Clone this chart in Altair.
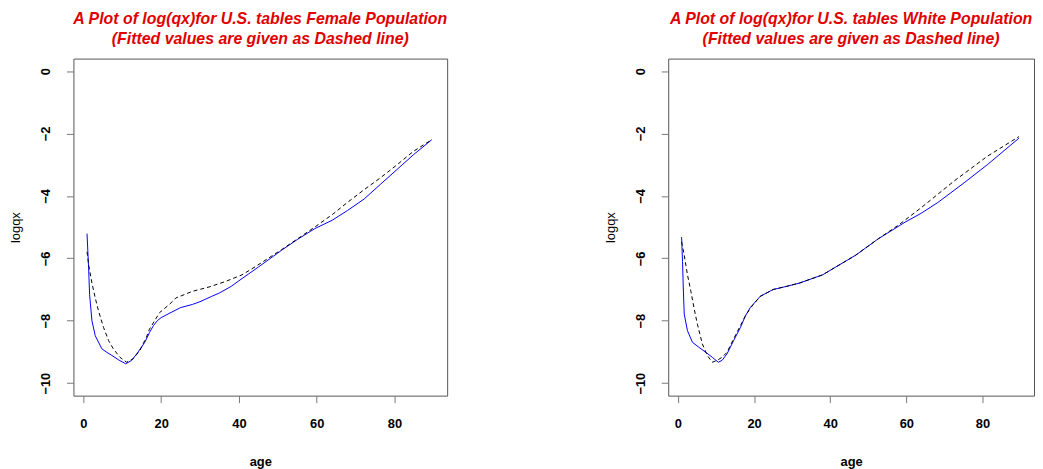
import altair as alt
import pandas as pd

# Female population: observed log(qx) (solid blue)
fem_obs_age = [0.94, 1.35, 1.6, 2.2, 3.05, 4.75, 6, 7.3, 9, 10.9, 12.4, 14.1, 15.8, 17, 18, 19, 20, 22,
               25, 28, 30, 33, 35, 38, 40, 42.5, 45, 51, 55, 59.5, 64, 67.9, 72.2, 76.4, 80.7, 84.9, 89.6]
fem_obs_val = [-5.21, -6.32, -7.16, -8.0, -8.48, -8.9, -9.01, -9.11, -9.25, -9.38, -9.27, -9.0, -8.69, -8.38,
               -8.16, -8.0, -7.90, -7.77, -7.58, -7.48, -7.39, -7.22, -7.11, -6.90, -6.72, -6.50, -6.28,
               -5.74, -5.4, -5.05, -4.78, -4.47, -4.10, -3.63, -3.15, -2.68, -2.20]
# Female population: fitted (dashed black)
fem_fit_age = [0.94, 1.35, 2.2, 3.05, 3.9, 5.2, 6.5, 7.7, 9.4, 11.1, 12.8, 14.5, 16.2, 17, 19.6, 22.1,
               23.8, 28, 32.3, 36.6, 40.8, 44.2, 51, 59.5, 64, 67.9, 72, 76.4, 80.7, 84.9, 89.6]
fem_fit_val = [-5.79, -6.21, -6.79, -7.27, -7.69, -8.22, -8.64, -8.9, -9.17, -9.33, -9.22, -8.96, -8.53,
               -8.27, -7.74, -7.48, -7.27, -7.06, -6.92, -6.74, -6.53, -6.27, -5.72, -5.0, -4.6, -4.21,
               -3.82, -3.42, -3.0, -2.57, -2.2]

# White population: observed log(qx) (solid blue)
wht_obs_age = [0.96, 1.2, 1.4, 1.65, 2.5, 3.8, 5.5, 7.3, 9, 10.6, 11.6, 12.9, 14.6, 16.4, 17.7, 19, 21.6,
               25, 28.5, 32, 38, 46.7, 52.7, 59.7, 64, 68.3, 75.2, 81.3, 89.6]
wht_obs_val = [-5.32, -6.1, -6.95, -7.79, -8.32, -8.69, -8.85, -9.01, -9.17, -9.33, -9.27, -9.06, -8.64,
               -8.22, -7.85, -7.58, -7.22, -7.0, -6.9, -6.79, -6.53, -5.9, -5.37, -4.84, -4.55, -4.21,
               -3.58, -3.0, -2.15]
# White population: fitted (dashed black)
wht_fit_age = [0.96, 1.65, 2.5, 3.4, 4.2, 5.1, 6.4, 7.7, 9, 10.3, 11.6, 12.9, 14.6, 16.4, 17.7, 19, 21.6,
               25, 28.5, 32, 38, 46.7, 52.7, 58, 64, 72.6, 81.3, 89.6]
wht_fit_val = [-5.47, -5.9, -6.53, -7.06, -7.58, -8.11, -8.74, -9.11, -9.33, -9.27, -9.17, -9.01, -8.59,
               -8.16, -7.85, -7.6, -7.22, -7.0, -6.9, -6.79, -6.53, -5.9, -5.37, -4.93, -4.37, -3.52,
               -2.73, -2.1]

x_ticks = [0, 20, 40, 60, 80]
y_ticks = [0, -2, -4, -6, -8, -10]

titles = {
    "Female": ["A Plot of log(qx)for U.S. tables Female Population",
               "(Fitted values are given as Dashed line)"],
    "White": ["A Plot of log(qx)for U.S. tables White Population",
              "(Fitted values are given as Dashed line)"],
}

FONT = "Liberation Sans"


def panel(obs_age, obs_val, fit_age, fit_val, title, width):
    obs = pd.DataFrame({"age": obs_age, "logqx": obs_val})
    fit = pd.DataFrame({"age": fit_age, "logqx": fit_val})
    x = alt.X("age:Q", title="age",
              scale=alt.Scale(domain=[-2.56, 93.56], nice=False, zero=False),
              axis=alt.Axis(values=x_ticks, grid=False, domain=False, tickSize=7,
                            tickColor="#777", labelPadding=15, labelFontWeight="bold",
                            labelFontSize=13, labelFont=FONT, labelColor="#000",
                            titleFont=FONT, titleFontSize=13, titleFontWeight="bold",
                            titlePadding=25, titleColor="#000"))
    y = alt.Y("logqx:Q", title="logqx",
              scale=alt.Scale(domain=[-10.4, 0.4], nice=False, zero=False),
              axis=alt.Axis(values=y_ticks, grid=False, domain=False, tickSize=7,
                            tickColor="#777", labelAngle=-90, labelPadding=14,
                            labelFontWeight="bold", labelFontSize=13, labelFont=FONT,
                            labelColor="#000", titleFont=FONT, titleFontSize=13,
                            titleFontWeight="normal", titlePadding=17, titleColor="#000"))
    l1 = alt.Chart(obs).mark_line(color="#0000ff", strokeWidth=1).encode(x=x, y=y, order="age:Q")
    l2 = alt.Chart(fit).mark_line(color="#000000", strokeWidth=1, strokeDash=[4, 3]).encode(
        x=x, y=y, order="age:Q")
    return alt.layer(l1, l2).properties(
        width=width, height=340,
        title=alt.TitleParams(text=title, font=FONT, fontSize=16, fontStyle="italic",
                              fontWeight="bold", color="#e00000", lineHeight=20,
                              anchor="middle", offset=12))


left = panel(fem_obs_age, fem_obs_val, fem_fit_age, fem_fit_val, titles["Female"], 377)
right = panel(wht_obs_age, wht_obs_val, wht_fit_age, wht_fit_val, titles["White"], 369)

chart = alt.hconcat(left, right, spacing=223, bounds="flush").properties(
    padding={"left": 1, "top": 0, "right": 0, "bottom": 0},
    background="white",
).configure_view(stroke="#555", strokeWidth=1)

chart.save("out.html", embed_options={"renderer": "svg", "actions": False})
